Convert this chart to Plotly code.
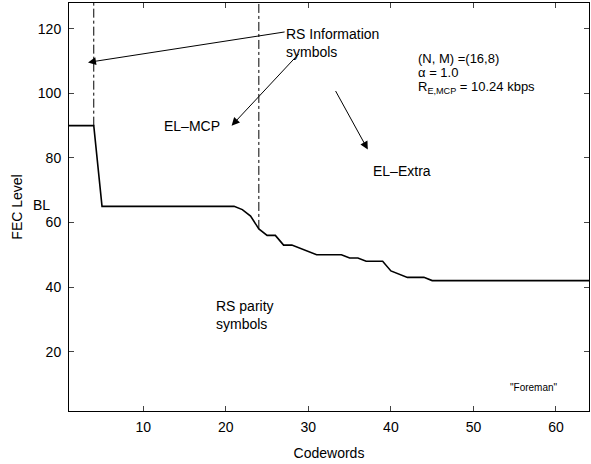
import plotly.graph_objects as go

# Data
codewords = list(range(1, 65))
fec_level = ([90] * 4 + [65] * 17 +
             [64, 62, 58, 56, 56, 53, 53, 52, 51, 50, 50, 50, 50, 49, 49, 48, 48, 48,
              45, 44, 43, 43, 43] + [42] * 20)
boundaries = [4, 24]
x_ticks = [10, 20, 30, 40, 50, 60]
y_ticks = [20, 40, 60, 80, 100, 120]
x_range = [1, 64]
y_range = [1.6, 128]

FONT = "Liberation Sans, Arial, Helvetica, sans-serif"

fig = go.Figure()
fig.add_trace(go.Scatter(x=codewords, y=fec_level, mode="lines",
                         line=dict(color="black", width=1.6), showlegend=False,
                         hoverinfo="skip"))
for b in boundaries:
    yb = fec_level[codewords.index(b)]
    fig.add_trace(go.Scatter(x=[b, b], y=[yb, y_range[1]], mode="lines",
                             line=dict(color="black", width=1, dash="dashdot"),
                             showlegend=False, hoverinfo="skip"))

arrows = [
    # (tail x, tail y, head x, head y)
    (27.3, 119.1, 3.3, 109.6),
    (29.0, 112.7, 20.7, 90.0),
    (33.2, 101.2, 37.2, 82.6),
]
anns = []
for tx, ty, hx, hy in arrows:
    anns.append(dict(x=hx, y=hy, ax=tx, ay=ty, xref="x", yref="y", axref="x", ayref="y",
                     text="", showarrow=True, arrowhead=2, arrowsize=1.6, arrowwidth=1,
                     arrowcolor="black"))

def txt(x, y, s, size=14, xanchor="left", align="left", xref="x"):
    anns.append(dict(x=x, y=y, xref=xref, yref="y", text=s, showarrow=False,
                     xanchor=xanchor, yanchor="middle", align=align,
                     font=dict(family=FONT, size=size, color="black")))

txt(27.0, 115.5, "RS Information<br>symbols")
txt(15.9, 90.0, "EL\u2013MCP", xanchor="center")
txt(41.4, 75.8, "EL\u2013Extra", xanchor="center")
txt(-0.052, 65.5, "BL", xanchor="center", xref="paper")
txt(18.6, 31.3, "RS parity<br>symbols")
txt(43.0, 110.8, "(N, M) =(16,8)", size=13)
txt(43.0, 106.4, "\u03b1 = 1.0", size=13)
txt(43.0, 101.8, "R<sub>E,MCP</sub> = 10.24 kbps", size=13)
txt(57.3, 8.8, "\"Foreman\"", size=10, xanchor="center")

fig.update_layout(
    width=591, height=464,
    margin=dict(l=69, r=2, t=3, b=53),
    paper_bgcolor="white", plot_bgcolor="white",
    font=dict(family=FONT, size=14, color="black"),
    annotations=anns,
    xaxis=dict(range=x_range, tickvals=x_ticks, ticks="inside", ticklen=5,
               showgrid=False, zeroline=False, showline=True, linecolor="black",
               linewidth=1, mirror="ticks", automargin=False, ticklabelstandoff=3,
               tickfont=dict(family=FONT, size=14),
               title=dict(text="Codewords", standoff=14,
                          font=dict(family=FONT, size=14))),
    yaxis=dict(range=y_range, tickvals=y_ticks, ticks="inside", ticklen=5,
               showgrid=False, zeroline=False, showline=True, linecolor="black",
               linewidth=1, mirror="ticks", automargin=False, ticklabelstandoff=4,
               tickfont=dict(family=FONT, size=14),
               title=dict(text="FEC Level", standoff=11,
                          font=dict(family=FONT, size=14))),
)

fig.write_html("out.html", config={"displayModeBar": False},
               post_script="document.body.style.margin='0';")
